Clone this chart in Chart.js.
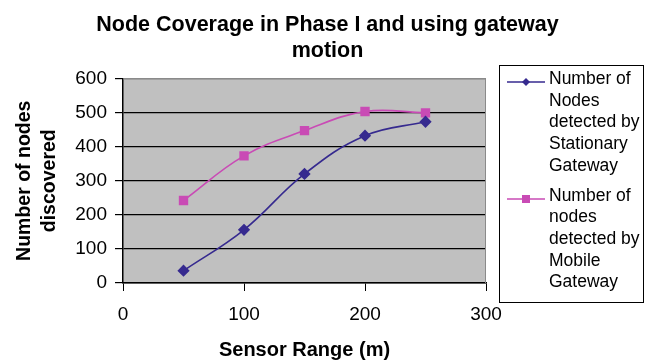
<!DOCTYPE html>
<html>
<head>
<meta charset="utf-8">
<script src="https://cdn.jsdelivr.net/npm/chart.js@4"></script>
<style>
  body { margin: 0; background: #fff; font-family: "Liberation Sans", Arial, sans-serif; }
  #wrap { position: relative; width: 655px; height: 360px; }
  #legend { position: absolute; left: 499px; top: 65px; width: 143px; height: 236px;
    border: 1px solid #000; background: #fff; font-size: 17.5px; line-height: 21.7px; color: #000; }
  .item { display: flex; align-items: flex-start; margin-left: 7px; margin-top: 2px; }
  .item + .item { margin-top: 8px; }
  .swatch { width: 38px; height: 22px; flex: none; }
  .txt { padding-left: 4px; }
</style>
</head>
<body>
<div id="wrap">
  <canvas id="chart" width="655" height="360"></canvas>
  <div id="legend"></div>
</div>
<script>
const sensorRange = [50, 100, 150, 200, 250];
const stationaryNodes = [36, 156, 320, 432, 473];
const mobileNodes = [242, 373, 447, 503, 499];
const seriesNames = [
  ["Number of", "Nodes", "detected by", "Stationary", "Gateway"],
  ["Number of", "nodes", "detected by", "Mobile", "Gateway"]
];
const yTicks = [0, 100, 200, 300, 400, 500, 600];
const xTicks = [0, 100, 200, 300];

const colStat = "#362a8f";
const colMob = "#c94bb5";
const fam = "'Liberation Sans', Arial, sans-serif";

// grey plot background + grey top/right border
const plotBg = {
  id: "plotBg",
  beforeDraw(chart) {
    const a = chart.chartArea, ctx = chart.ctx;
    ctx.save();
    ctx.fillStyle = "#c0c0c0";
    ctx.fillRect(a.left, a.top, a.right - a.left, a.bottom - a.top);
    ctx.restore();
  },
  afterDatasetsDraw(chart) {
    const a = chart.chartArea, ctx = chart.ctx;
    ctx.save();
    ctx.strokeStyle = "#8a8a8a";
    ctx.lineWidth = 1;
    ctx.beginPath();
    ctx.moveTo(a.left, a.top + 0.5);
    ctx.lineTo(a.right - 0.5, a.top + 0.5);
    ctx.lineTo(a.right - 0.5, a.bottom);
    ctx.stroke();
    ctx.restore();
  }
};

const chart = new Chart(document.getElementById("chart"), {
  type: "line",
  data: {
    datasets: [
      {
        label: seriesNames[0].join(" "),
        data: sensorRange.map((x, i) => ({ x, y: stationaryNodes[i] })),
        borderColor: colStat, backgroundColor: colStat,
        borderWidth: 1.6, pointStyle: "rectRot", pointRadius: 5, tension: 0.4
      },
      {
        label: seriesNames[1].join(" "),
        data: sensorRange.map((x, i) => ({ x, y: mobileNodes[i] })),
        borderColor: colMob, backgroundColor: colMob,
        borderWidth: 1.6, pointStyle: "rect", pointRadius: 5.5, tension: 0.4
      }
    ]
  },
  options: {
    responsive: false,
    animation: false,
    layout: { padding: 0 },
    plugins: {
      legend: { display: false },
      tooltip: { enabled: false },
      title: {
        display: true,
        text: ["Node Coverage in Phase I and using gateway", "motion"],
        color: "#000",
        font: { family: fam, size: 21.5, weight: "bold", lineHeight: 1.22 },
        padding: { top: 12, bottom: 14 }
      }
    },
    scales: {
      x: {
        type: "linear", min: 0, max: 300,
        afterBuildTicks: s => { s.ticks = xTicks.map(v => ({ value: v })); },
        afterFit: s => { s.height = 77; },
        grid: { drawOnChartArea: false, drawTicks: true, tickLength: 8, color: "#000" },
        border: { color: "#000", width: 1.5 },
        ticks: { color: "#000", font: { family: fam, size: 19 }, padding: 12, maxRotation: 0 },
        title: { display: true, text: "Sensor Range (m)", color: "#000",
          font: { family: fam, size: 20, weight: "bold", lineHeight: 1 }, padding: { top: 0, bottom: 0 } }
      },
      y: {
        min: 0, max: 600,
        afterBuildTicks: s => { s.ticks = yTicks.map(v => ({ value: v })); },
        afterFit: s => { s.width = 123; },
        grid: {
          color: c => (c.tick && c.tick.value === 600 ? "#8a8a8a" : "#000"),
          tickColor: "#000", tickLength: 8, lineWidth: 1.2
        },
        border: { color: "#000", width: 1.5 },
        ticks: { color: "#000", font: { family: fam, size: 19 }, padding: 8 },
        title: { display: true, text: ["Number of nodes", "discovered"], color: "#000",
          font: { family: fam, size: 19.5, weight: "bold", lineHeight: 1.3 }, padding: { top: 12, bottom: 0 } }
      },
      // empty right-hand axis: reserves the room the legend box sits in
      yRight: {
        position: "right", min: 0, max: 600,
        afterFit: s => { s.width = 169; },
        grid: { display: false },
        border: { display: false },
        ticks: { display: false }
      }
    }
  },
  plugins: [plotBg]
});

// legend built from the chart's datasets
const legend = document.getElementById("legend");
chart.data.datasets.forEach((ds, i) => {
  const item = document.createElement("div");
  item.className = "item";
  const sw = document.createElement("canvas");
  sw.className = "swatch"; sw.width = 38; sw.height = 22;
  const c = sw.getContext("2d");
  c.strokeStyle = ds.borderColor; c.fillStyle = ds.borderColor; c.lineWidth = 1.5;
  c.beginPath(); c.moveTo(0, 14); c.lineTo(38, 14); c.stroke();
  if (ds.pointStyle === "rect") c.fillRect(15, 10, 8, 8);
  else { c.beginPath(); c.moveTo(19, 10); c.lineTo(23, 14); c.lineTo(19, 18); c.lineTo(15, 14); c.closePath(); c.fill(); }
  const t = document.createElement("div");
  t.className = "txt";
  t.innerHTML = seriesNames[i].join("<br>");
  item.appendChild(sw); item.appendChild(t);
  legend.appendChild(item);
});
</script>
</body>
</html>
